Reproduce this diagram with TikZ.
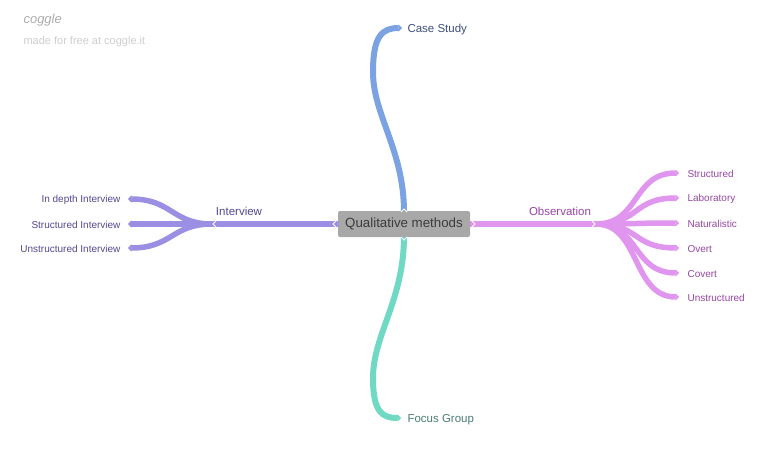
\documentclass[tikz,border=0pt]{standalone}
\usepackage{fontspec}
\setmainfont{Liberation Sans}
\usetikzlibrary{positioning, arrows.meta}
\definecolor{cogGray}{HTML}{A8A8A8}
\definecolor{cogDark}{HTML}{3C3C3C}
\definecolor{cogMark}{HTML}{ACACAC}
\definecolor{cogMarkLight}{HTML}{CDCDCD}
\definecolor{intvCol}{HTML}{9A8FE2}
\definecolor{intvText}{HTML}{53498F}
\definecolor{obsCol}{HTML}{E096EE}
\definecolor{obsText}{HTML}{9646A2}
\definecolor{caseCol}{HTML}{7BA3E1}
\definecolor{caseText}{HTML}{3E4F7C}
\definecolor{focusCol}{HTML}{6FD9C4}
\definecolor{focusText}{HTML}{4B7C75}

\begin{document}
\begin{tikzpicture}[x=1pt, y=-1pt,
    every node/.style={font=\fontsize{10}{12}\selectfont},
    rootbox/.style={fill=cogGray, rounded corners=2pt, text=cogDark, minimum width=132pt, minimum height=26pt, inner sep=0pt, font=\fontsize{13.3}{15}\selectfont},
    mainlabel/.style={font=\fontsize{11.5}{13}\selectfont, yshift=-1.5pt},
    leaflabel/.style={font=\fontsize{10}{12}\selectfont, yshift=-0.6pt},
    branch/.style={line width=6.5pt},
    twig/.style={line width=5.5pt, -{Triangle[length=3.5pt, width=7pt]}},
    notch/.style={draw=white, line width=0.8pt}
]
\useasboundingbox (0,0) rectangle (768,455);

% watermark
\node[anchor=west, text=cogMark, font=\fontsize{13}{15}\selectfont\itshape] (logo) at (20,20) {coggle};
\node[anchor=west, text=cogMarkLight, font=\fontsize{11}{13}\selectfont] (madefor) at (20,42) {made for free at coggle.it};

% branch points and leaf tips
\coordinate (intv) at (212,224);
\coordinate (obs) at (596,224);
\coordinate (cs) at (402,28);
\coordinate (fg) at (401,418);

\coordinate (in1) at (128,199);
\coordinate (in2) at (128,224);
\coordinate (in3) at (128,248);

\foreach \i/\y in {1/173, 2/198, 3/223, 4/248, 5/273, 6/297} {
    \coordinate (ob\i) at (679,\y);
}

% Case Study / Focus Group
\draw[twig, caseCol, line width=6pt] (404,212) .. controls (404,150) and (373,115) .. (373,72) .. controls (373,36) and (382,28) .. (cs);
\draw[twig, focusCol, line width=6pt] (404,236) .. controls (404,300) and (373,335) .. (373,378) .. controls (373,412) and (382,418) .. (fg);

% Interview
\draw[branch, intvCol] (338,224) -- (intv);
\draw[twig, intvCol] (intv) .. controls (172,224) and (172,199) .. (in1);
\draw[twig, intvCol] (intv) -- (in2);
\draw[twig, intvCol] (intv) .. controls (172,224) and (172,248) .. (in3);

% Observation
\draw[branch, obsCol] (470,224) -- (obs);
\foreach \i/\y in {1/173, 2/198, 3/223, 4/248, 5/273, 6/297} {
    \draw[twig, obsCol] (obs) .. controls (640,224) and (632,\y) .. (ob\i);
}

% root
\node[rootbox] (root) at (404,224) {Qualitative methods};

% notches
\draw[notch] (336,221) -- (333,224) -- (336,227);
\draw[notch] (472,221) -- (475,224) -- (472,227);
\draw[notch] (401,212) -- (404,209) -- (407,212);
\draw[notch] (401,237) -- (404,240) -- (407,237);
\draw[notch] (216,221) -- (213,224) -- (216,227);
\draw[notch] (592,221) -- (595,224) -- (592,227);

% labels
\node[mainlabel, text=intvText] (intvlabel) at (239,209.5) {Interview};
\node[mainlabel, text=obsText] (obslabel) at (560,209.5) {Observation};
\node[mainlabel, text=caseText, right=2pt of cs] (cslabel) {Case Study};
\node[mainlabel, text=focusText, right=3pt of fg] (fglabel) {Focus Group};

\node[leaflabel, text=intvText, left=4pt of in1] (in1label) {In depth Interview};
\node[leaflabel, text=intvText, left=4pt of in2] (in2label) {Structured Interview};
\node[leaflabel, text=intvText, left=4pt of in3] (in3label) {Unstructured Interview};

\foreach \i/\txt in {1/Structured, 2/Laboratory, 3/Naturalistic, 4/Overt, 5/Covert, 6/Unstructured} {
    \node[leaflabel, text=obsText, right=5pt of ob\i] (ob\i label) {\txt};
}

\end{tikzpicture}
\end{document}
